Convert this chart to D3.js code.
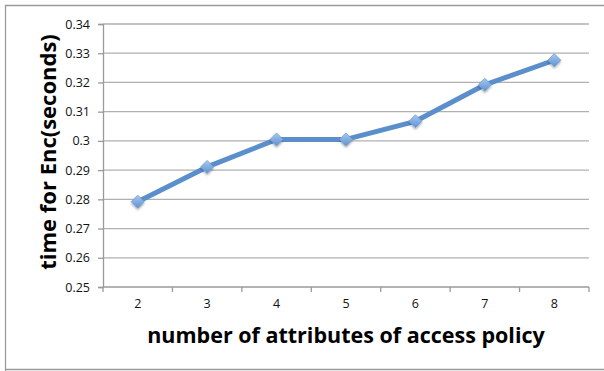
<!DOCTYPE html>
<html><head><meta charset="utf-8">
<script src="https://cdn.jsdelivr.net/npm/d3@7"></script>
<style>body{margin:0;background:#fff}svg{display:block}</style>
</head><body>
<svg id="c" width="604" height="371"></svg>
<script>
const categories = ["2","3","4","5","6","7","8"];
const values = [0.2792, 0.2911, 0.3005, 0.3005, 0.3067, 0.3192, 0.3276];
const yTicks = [0.25,0.26,0.27,0.28,0.29,0.30,0.31,0.32,0.33,0.34];
const xTitle = "number of attributes of access policy";
const yTitle = "time for Enc(seconds)";

const svg = d3.select("#c");
const L=103, R=589, T=24, B=287;
const x = d3.scaleBand().domain(categories).range([L,R]);
const y = d3.scaleLinear().domain([0.25,0.34]).range([B,T]);

// outer frame
svg.append("path").attr("d","M5.5,371 V5.5 H604 M5.5,369.5 H604").attr("fill","none").attr("stroke","#9a9a9a").attr("stroke-width",1.3);

const defs = svg.append("defs");
const g1 = defs.append("linearGradient").attr("id","mg").attr("x1",0).attr("y1",0).attr("x2",0).attr("y2",1);
g1.append("stop").attr("offset","0%").attr("stop-color","#a9c8ee");
g1.append("stop").attr("offset","100%").attr("stop-color","#5d92d2");
const f = defs.append("filter").attr("id","sh").attr("x","-50%").attr("y","-50%").attr("width","200%").attr("height","200%");
f.append("feDropShadow").attr("dx",0).attr("dy",1.5).attr("stdDeviation",1.2).attr("flood-color","#000").attr("flood-opacity",0.35);

// grid
svg.append("g").selectAll("line").data(yTicks.slice(1)).join("line")
  .attr("x1",L).attr("x2",R).attr("y1",d=>y(d)).attr("y2",d=>y(d))
  .attr("stroke","#b0b0b0").attr("stroke-width",1.3);

// y axis
const ya = svg.append("g").attr("transform",`translate(${L},0)`)
  .call(d3.axisLeft(y).tickValues(yTicks).tickSize(5).tickPadding(8).tickFormat(d=>d3.format("")(+d.toFixed(2))));
ya.select(".domain").attr("stroke","#9a9a9a").attr("stroke-width",1.3);
ya.selectAll(".tick line").attr("stroke","#9a9a9a").attr("stroke-width",1.3);
ya.selectAll("text").attr("font-family","Open Sans, sans-serif").attr("font-size",12.5).attr("fill","#111");

// x axis
const xa = svg.append("g").attr("transform",`translate(0,${B})`)
  .call(d3.axisBottom(x).tickSize(0).tickPadding(12));
xa.select(".domain").remove();
xa.selectAll("text").attr("font-family","Open Sans, sans-serif").attr("font-size",12.5).attr("fill","#111");
svg.append("line").attr("x1",L).attr("x2",R).attr("y1",B).attr("y2",B).attr("stroke","#9a9a9a").attr("stroke-width",1.3);
const bounds = categories.map(c=>x(c)).concat([R]);
svg.append("g").selectAll("line").data(bounds).join("line")
  .attr("x1",d=>d).attr("x2",d=>d).attr("y1",B).attr("y2",B+5)
  .attr("stroke","#9a9a9a").attr("stroke-width",1.3);

// line
const cx = c=>x(c)+x.bandwidth()/2;
svg.append("path").datum(values)
  .attr("d", d3.line().x((d,i)=>cx(categories[i])).y(d=>y(d)))
  .attr("fill","none").attr("stroke","#5b8fcc").attr("stroke-width",5).attr("stroke-linejoin","round");

// markers
svg.append("g").selectAll("path").data(values).join("path")
  .attr("transform",(d,i)=>`translate(${cx(categories[i])},${y(d)})`)
  .attr("d","M0,-6.5 L6.5,0 L0,6.5 L-6.5,0 Z")
  .attr("fill","url(#mg)").attr("stroke","#6f9fd8").attr("stroke-width",0.8).attr("filter","url(#sh)");

// titles
svg.append("text").attr("x",346).attr("y",343).attr("text-anchor","middle")
  .attr("font-family","Open Sans, sans-serif").attr("font-weight","bold").attr("font-size",21.5)
  .attr("fill","#000").text(xTitle);
svg.append("text").attr("transform","translate(56,152) rotate(-90)").attr("text-anchor","middle")
  .attr("font-family","Open Sans, sans-serif").attr("font-weight","bold").attr("font-size",22)
  .attr("fill","#000").text(yTitle);
</script>
</body></html>
